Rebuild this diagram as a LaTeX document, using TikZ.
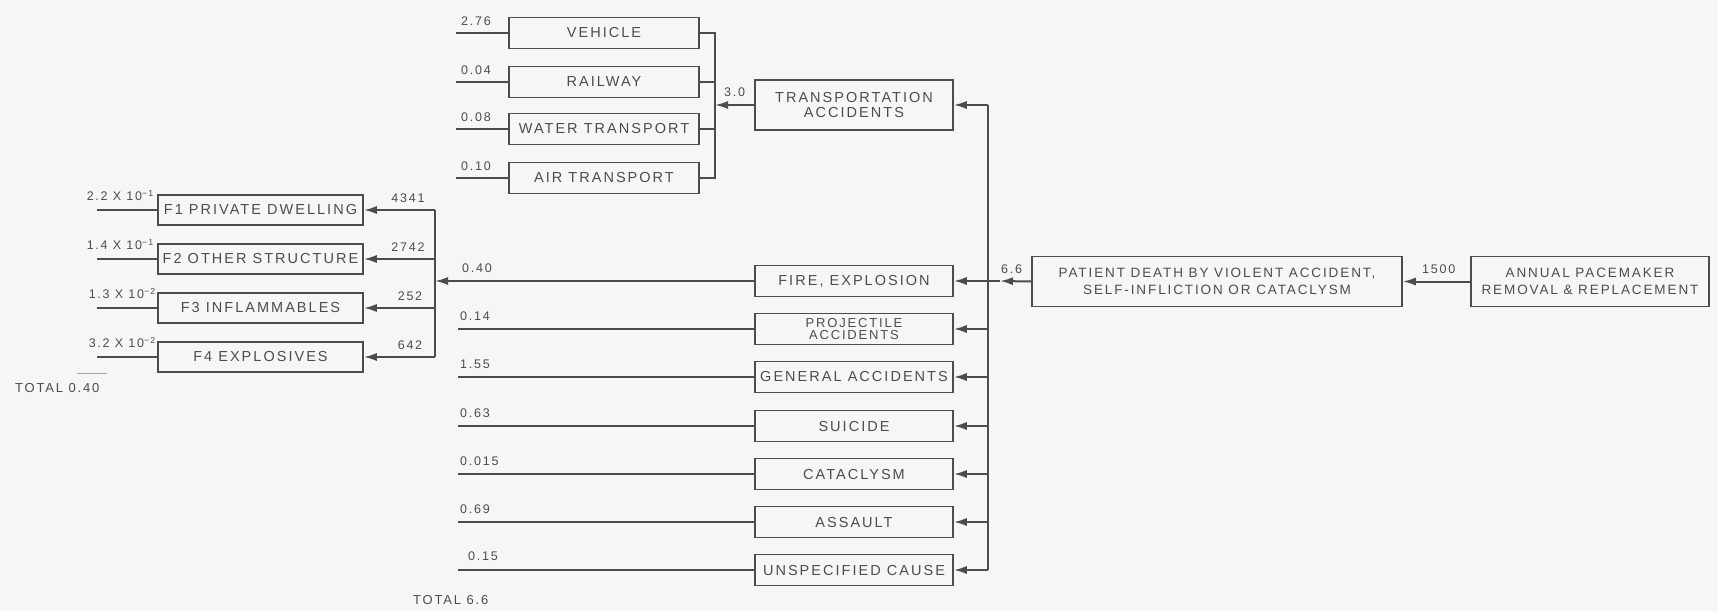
\documentclass[tikz,border=0pt]{standalone}
\usepackage{fontspec}
\setmainfont{Liberation Sans}[LetterSpace=14]
\usetikzlibrary{arrows.meta}
\definecolor{ink}{gray}{0.3}
\definecolor{paper}{gray}{0.965}
\begin{document}
\begin{tikzpicture}[x=1pt,y=-1pt,
  box/.style={draw=ink, line width=1.5pt, minimum width=#1, minimum height=31pt,
    inner sep=0pt, text=ink, font=\fontsize{14.5}{15}\selectfont, align=center},
  box/.default=190pt,
  tall/.style={minimum height=50pt},
  ln/.style={draw=ink, line width=2pt},
  arr/.style={ln, -{Latex[length=13pt,width=8pt]}},
  lbl/.style={text=ink, font=\fontsize{12.5}{13}\selectfont, inner sep=0pt},
  tot/.style={text=ink, font=\fontsize{13}{14}\selectfont, inner sep=0pt},
]
\useasboundingbox (0,0) rectangle (1718,611);
\fill[paper] (0,0) rectangle (1718,611);

% ---- transportation sub-tree
\node[box] (veh) at (604,33) {VEHICLE};
\node[box] (rail) at (604,82) {RAILWAY};
\node[box] (water) at (604,129) {WATER TRANSPORT};
\node[box] (air) at (604,178) {AIR TRANSPORT};
\coordinate (tbT) at (715,33);
\coordinate (tbB) at (715,178);
\coordinate (inT) at (456,0);
\draw[ln] (veh.east) -- (tbT) -- (tbB) -- (air.east);
\draw[ln] (rail.east) -- (rail.east -| tbT);
\draw[ln] (water.east) -- (water.east -| tbT);
\draw[ln] (inT |- veh.west) -- (veh.west);
\draw[ln] (inT |- rail.west) -- (rail.west);
\draw[ln] (inT |- water.west) -- (water.west);
\draw[ln] (inT |- air.west) -- (air.west);
\node[lbl, anchor=south west] (l1) at (461,26) {2.76};
\node[lbl, anchor=south west] (l2) at (461,75) {0.04};
\node[lbl, anchor=south west] (l3) at (461,122) {0.08};
\node[lbl, anchor=south west] (l4) at (461,171) {0.10};

\node[box=198pt, tall] (trans) at (854,105) {TRANSPORTATION\\ACCIDENTS};
\draw[arr] (trans.west) -- (trans.west -| tbT);
\node[lbl, anchor=south west] (l30) at (724,97) {3.0};

% ---- main column
\node[box=198pt] (fire) at (854,281) {FIRE, EXPLOSION};
\node[box=198pt, font=\fontsize{13}{12.5}\selectfont] (proj) at (854,329) {PROJECTILE\\ACCIDENTS};
\node[box=198pt] (gen) at (854,377) {GENERAL ACCIDENTS};
\node[box=198pt] (sui) at (854,426) {SUICIDE};
\node[box=198pt] (cat) at (854,474) {CATACLYSM};
\node[box=198pt] (ass) at (854,522) {ASSAULT};
\node[box=198pt] (uns) at (854,570) {UNSPECIFIED CAUSE};

\coordinate (busT) at (988,105);
\coordinate (busB) at (988,570);
\draw[ln] (busT) -- (busB);
\draw[arr] (busT) -- (trans.east);
\foreach \n in {fire,proj,gen,sui,cat,ass,uns}
  \draw[arr] (\n.east -| busT) -- (\n.east);

\coordinate (inL) at (458,0);
\foreach \n in {proj,gen,sui,cat,ass,uns}
  \draw[ln] (inL |- \n.west) -- (\n.west);

\node[lbl, anchor=south west] (m1) at (462,273) {0.40};
\node[lbl, anchor=south west] (m2) at (460,321) {0.14};
\node[lbl, anchor=south west] (m3) at (460,369) {1.55};
\node[lbl, anchor=south west] (m4) at (460,418) {0.63};
\node[lbl, anchor=south west] (m5) at (460,466) {0.015};
\node[lbl, anchor=south west] (m6) at (460,514) {0.69};
\node[lbl, anchor=south west] (m7) at (468,561) {0.15};
\node[tot, anchor=west] (tot2) at (413,600) {TOTAL 6.6};

% ---- fire sub-tree
\node[box=205pt, minimum height=30pt] (f1) at (260.5,210) {F1 PRIVATE DWELLING};
\node[box=205pt, minimum height=30pt] (f2) at (260.5,259) {F2 OTHER STRUCTURE};
\node[box=205pt, minimum height=30pt] (f3) at (260.5,308) {F3 INFLAMMABLES};
\node[box=205pt, minimum height=30pt] (f4) at (260.5,357) {F4 EXPLOSIVES};
\coordinate (fT) at (435,210);
\coordinate (fB) at (435,357);
\draw[ln] (fT) -- (fB);
\draw[arr] (fire.west) -- (fire.west -| fT);
\foreach \n in {f1,f2,f3,f4}
  \draw[arr] (\n.east -| fT) -- (\n.east);
\coordinate (inF) at (97,0);
\foreach \n in {f1,f2,f3,f4}
  \draw[ln] (inF |- \n.west) -- (\n.west);

\node[lbl, anchor=south] (n1) at (408,203) {4341};
\node[lbl, anchor=south] (n2) at (408,252) {2742};
\node[lbl, anchor=south] (n3) at (410,301) {252};
\node[lbl, anchor=south] (n4) at (410,350) {642};

\node[lbl, anchor=south east] (e1) at (154,201) {2.2 X 10\textsuperscript{−1}};
\node[lbl, anchor=south east] (e2) at (154,250) {1.4 X 10\textsuperscript{−1}};
\node[lbl, anchor=south east] (e3) at (156,299) {1.3 X 10\textsuperscript{−2}};
\node[lbl, anchor=south east] (e4) at (156,348) {3.2 X 10\textsuperscript{−2}};

\node[tot, anchor=west] (tot1) at (15,388) {TOTAL 0.40};
\draw[draw=ink!50, line width=0.8pt] (77,373) -- (107,373);

% ---- right part
\node[box=370pt, tall, font=\fontsize{13.5}{17}\selectfont] (pat) at (1217,281.5)
  {PATIENT DEATH BY VIOLENT ACCIDENT,\\SELF-INFLICTION OR CATACLYSM};
\node[box=238pt, tall, font=\fontsize{13.5}{17}\selectfont] (ann) at (1590,281.5)
  {ANNUAL PACEMAKER\\REMOVAL \& REPLACEMENT};
\draw[arr] (ann.west) -- (pat.east);
\coordinate (pj) at (1000,281);
\draw[arr] (pat.west) -- (pj);
\draw[ln] (pj) -- (pj -| busT);
\node[lbl, anchor=south west] (r1) at (1001,274) {6.6};
\node[lbl, anchor=south west] (r2) at (1422,274) {1500};
\end{tikzpicture}
\end{document}
